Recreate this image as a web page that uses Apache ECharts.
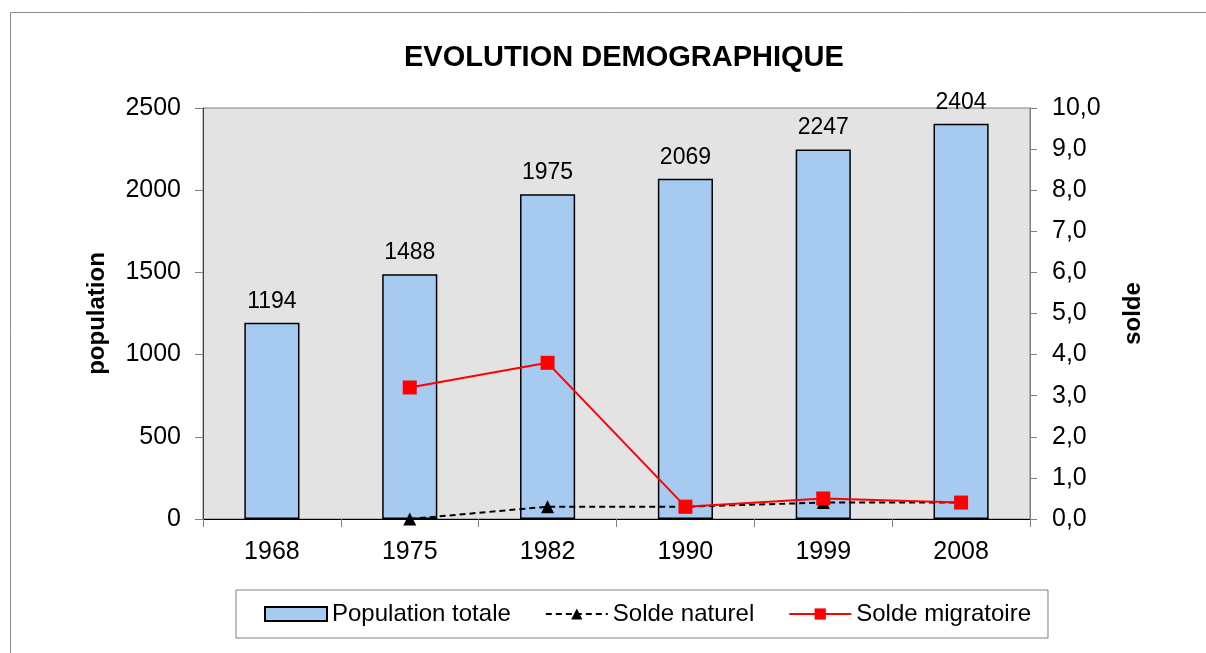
<!DOCTYPE html>
<html>
<head>
<meta charset="utf-8">
<script src="https://cdn.jsdelivr.net/npm/echarts@6/dist/echarts.min.js"></script>
<style>html,body{margin:0;padding:0;background:#fff;}#c{width:1206px;height:653px;}</style>
</head>
<body>
<div id="c"></div>
<script>
var categories = ['1968', '1975', '1982', '1990', '1999', '2008'];
var population = [1194, 1488, 1975, 2069, 2247, 2404];
var soldeNaturel = [null, 0.0, 0.3, 0.3, 0.4, 0.4];
var soldeMigratoire = [null, 3.2, 3.8, 0.3, 0.5, 0.4];
var leftTicks = [0, 500, 1000, 1500, 2000, 2500];

var font = 'Liberation Sans, Arial, sans-serif';
var chart = echarts.init(document.getElementById('c'));
chart.setOption({
  animation: false,
  backgroundColor: '#fff',
  textStyle: {fontFamily: font},
  graphic: [{
    type: 'rect', left: 8, top: 10, shape: {width: 1210, height: 660},
    style: {fill: 'none', stroke: '#8c8c8c', lineWidth: 1}, z: -1
  }],
  title: {
    text: 'EVOLUTION DEMOGRAPHIQUE', left: 399, top: 38,
    textStyle: {fontFamily: font, fontSize: 29, fontWeight: 'bold', color: '#000'}
  },
  grid: {left: 203, right: 176, top: 108, bottom: 134, show: true, backgroundColor: '#e3e3e3', borderColor: '#808080', borderWidth: 1},
  legend: {
    left: 236, top: 590,
    padding: [12, 17, 12, 28],
    itemGap: 34, itemWidth: 62, itemHeight: 14,
    borderColor: '#808080', borderWidth: 1,
    textStyle: {fontFamily: font, fontSize: 24, color: '#000'},
    data: [{name: 'Population totale', icon: 'rect'}, 'Solde naturel', 'Solde migratoire']
  },
  xAxis: {
    type: 'category', data: categories,
    axisLine: {lineStyle: {color: '#000', width: 1}},
    axisTick: {show: true, alignWithLabel: false, length: 8, lineStyle: {color: '#808080'}},
    axisLabel: {fontFamily: font, fontSize: 25, color: '#000', margin: 21}
  },
  yAxis: [{
    type: 'value', min: leftTicks[0], max: leftTicks[leftTicks.length - 1], interval: leftTicks[1] - leftTicks[0],
    name: 'population', nameLocation: 'middle', nameRotate: 90, nameGap: 94,
    nameTextStyle: {fontFamily: font, fontSize: 24, fontWeight: 'bold', color: '#000'},
    axisLine: {show: true, lineStyle: {color: '#404040'}},
    axisTick: {show: true, length: 8, lineStyle: {color: '#808080'}},
    axisLabel: {fontFamily: font, fontSize: 25, color: '#000', margin: 22,
      formatter: function (v) { return String(v); }},
    splitLine: {show: false}
  }, {
    type: 'value', min: 0, max: 10, interval: 1,
    name: 'solde', nameLocation: 'middle', nameRotate: 90, nameGap: 91,
    nameTextStyle: {fontFamily: font, fontSize: 24, fontWeight: 'bold', color: '#000'},
    axisLine: {show: true, lineStyle: {color: '#808080'}},
    axisTick: {show: true, length: 7, lineStyle: {color: '#808080'}},
    axisLabel: {fontFamily: font, fontSize: 25, color: '#000', margin: 22,
      formatter: function (v) { return v.toFixed(1).replace('.', ','); }},
    splitLine: {show: false}
  }],
  series: [{
    name: 'Population totale', type: 'bar', data: population, barWidth: '40%',
    itemStyle: {color: '#a6caf0', borderColor: '#000', borderWidth: 1.5},
    label: {show: true, position: 'top', distance: 10, fontFamily: font, fontSize: 23, color: '#000'}
  }, {
    name: 'Solde naturel', type: 'line', yAxisIndex: 1, data: soldeNaturel,
    symbol: 'triangle', symbolSize: 13,
    lineStyle: {color: '#000', width: 2, type: [6, 4]},
    itemStyle: {color: '#000'}
  }, {
    name: 'Solde migratoire', type: 'line', yAxisIndex: 1, data: soldeMigratoire,
    symbol: 'rect', symbolSize: 14,
    lineStyle: {color: '#ff0000', width: 2},
    itemStyle: {color: '#ff0000'}
  }]
});
</script>
</body>
</html>
